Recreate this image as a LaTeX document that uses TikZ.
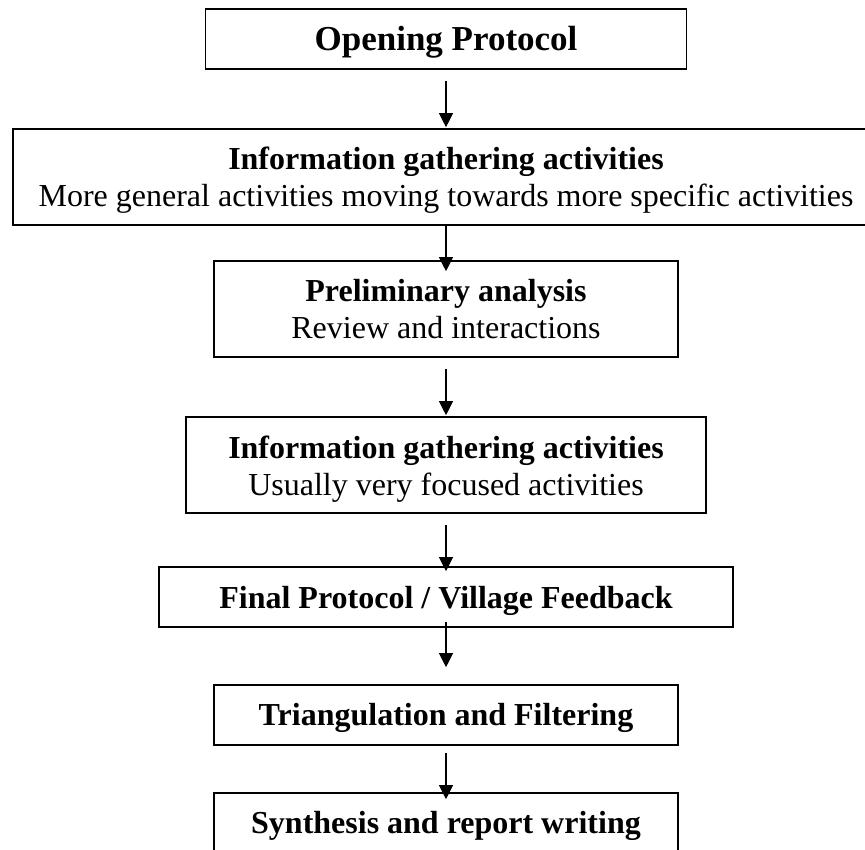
\documentclass[tikz,border=0pt]{standalone}
\usepackage{fontspec}
\setmainfont{Liberation Serif}
\usetikzlibrary{arrows.meta}
\begin{document}
\begin{tikzpicture}[x=1pt,y=-1pt,
  stage/.style={draw=black, line width=1.6pt, inner sep=0pt},
  flow/.style={-{Triangle[length=14pt,width=14pt]}, line width=1.1pt},
  head/.style={anchor=base, inner sep=0pt, font=\fontsize{32}{37}\selectfont\bfseries},
  note/.style={anchor=base, inner sep=0pt, font=\fontsize{32}{37}\selectfont}]
\useasboundingbox (0,0) rectangle (865,850);
\clip (0,0) rectangle (865,850);

% stage boxes
\node[stage, minimum width=481pt, minimum height=60pt] (open)    at (446,39)  {};
\node[stage, minimum width=866pt, minimum height=96pt] (gather1) at (446,177) {};
\node[stage, minimum width=464pt, minimum height=96pt] (prelim)  at (446,309) {};
\node[stage, minimum width=520pt, minimum height=96pt] (gather2) at (446,465) {};
\node[stage, minimum width=574pt, minimum height=60pt] (final)   at (446,597) {};
\node[stage, minimum width=464pt, minimum height=60pt] (triang)  at (446,715) {};
\node[stage, minimum width=464pt, minimum height=60pt] (synth)   at (446,823) {};

% box texts
\node[head, font=\fontsize{35}{40}\selectfont\bfseries] (t-open) at (446,51) {Opening Protocol};
\node[head] (t-gath1)  at (446,170) {Information gathering activities};
\node[note] (t-gath1b) at (446,207) {More general activities moving towards more specific activities};
\node[head] (t-prel)   at (446,302) {Preliminary analysis};
\node[note] (t-prelb)  at (446,338) {Review and interactions};
\node[head] (t-gath2)  at (446,458) {Information gathering activities};
\node[note] (t-gath2b) at (446,495) {Usually very focused activities};
\node[head] (t-final)  at (446,608) {Final Protocol / Village Feedback};
\node[head] (t-tri)    at (446,725) {Triangulation and Filtering};
\node[head] (t-syn)    at (446,833) {Synthesis and report writing};

% connectors
\draw[flow, shorten <=11pt, shorten >=1pt]  (open.south)    -- (gather1.north);
\draw[flow, shorten >=-11pt]                (gather1.south) -- (prelim.north);
\draw[flow, shorten <=11pt, shorten >=1pt]  (prelim.south)  -- (gather2.north);
\draw[flow, shorten <=11pt, shorten >=-5pt] (gather2.south) -- (final.north);
\draw[flow, shorten <=-6pt, shorten >=17pt] (final.south)   -- (triang.north);
\draw[flow, shorten <=7pt, shorten >=-7pt]  (triang.south)  -- (synth.north);
\end{tikzpicture}
\end{document}
